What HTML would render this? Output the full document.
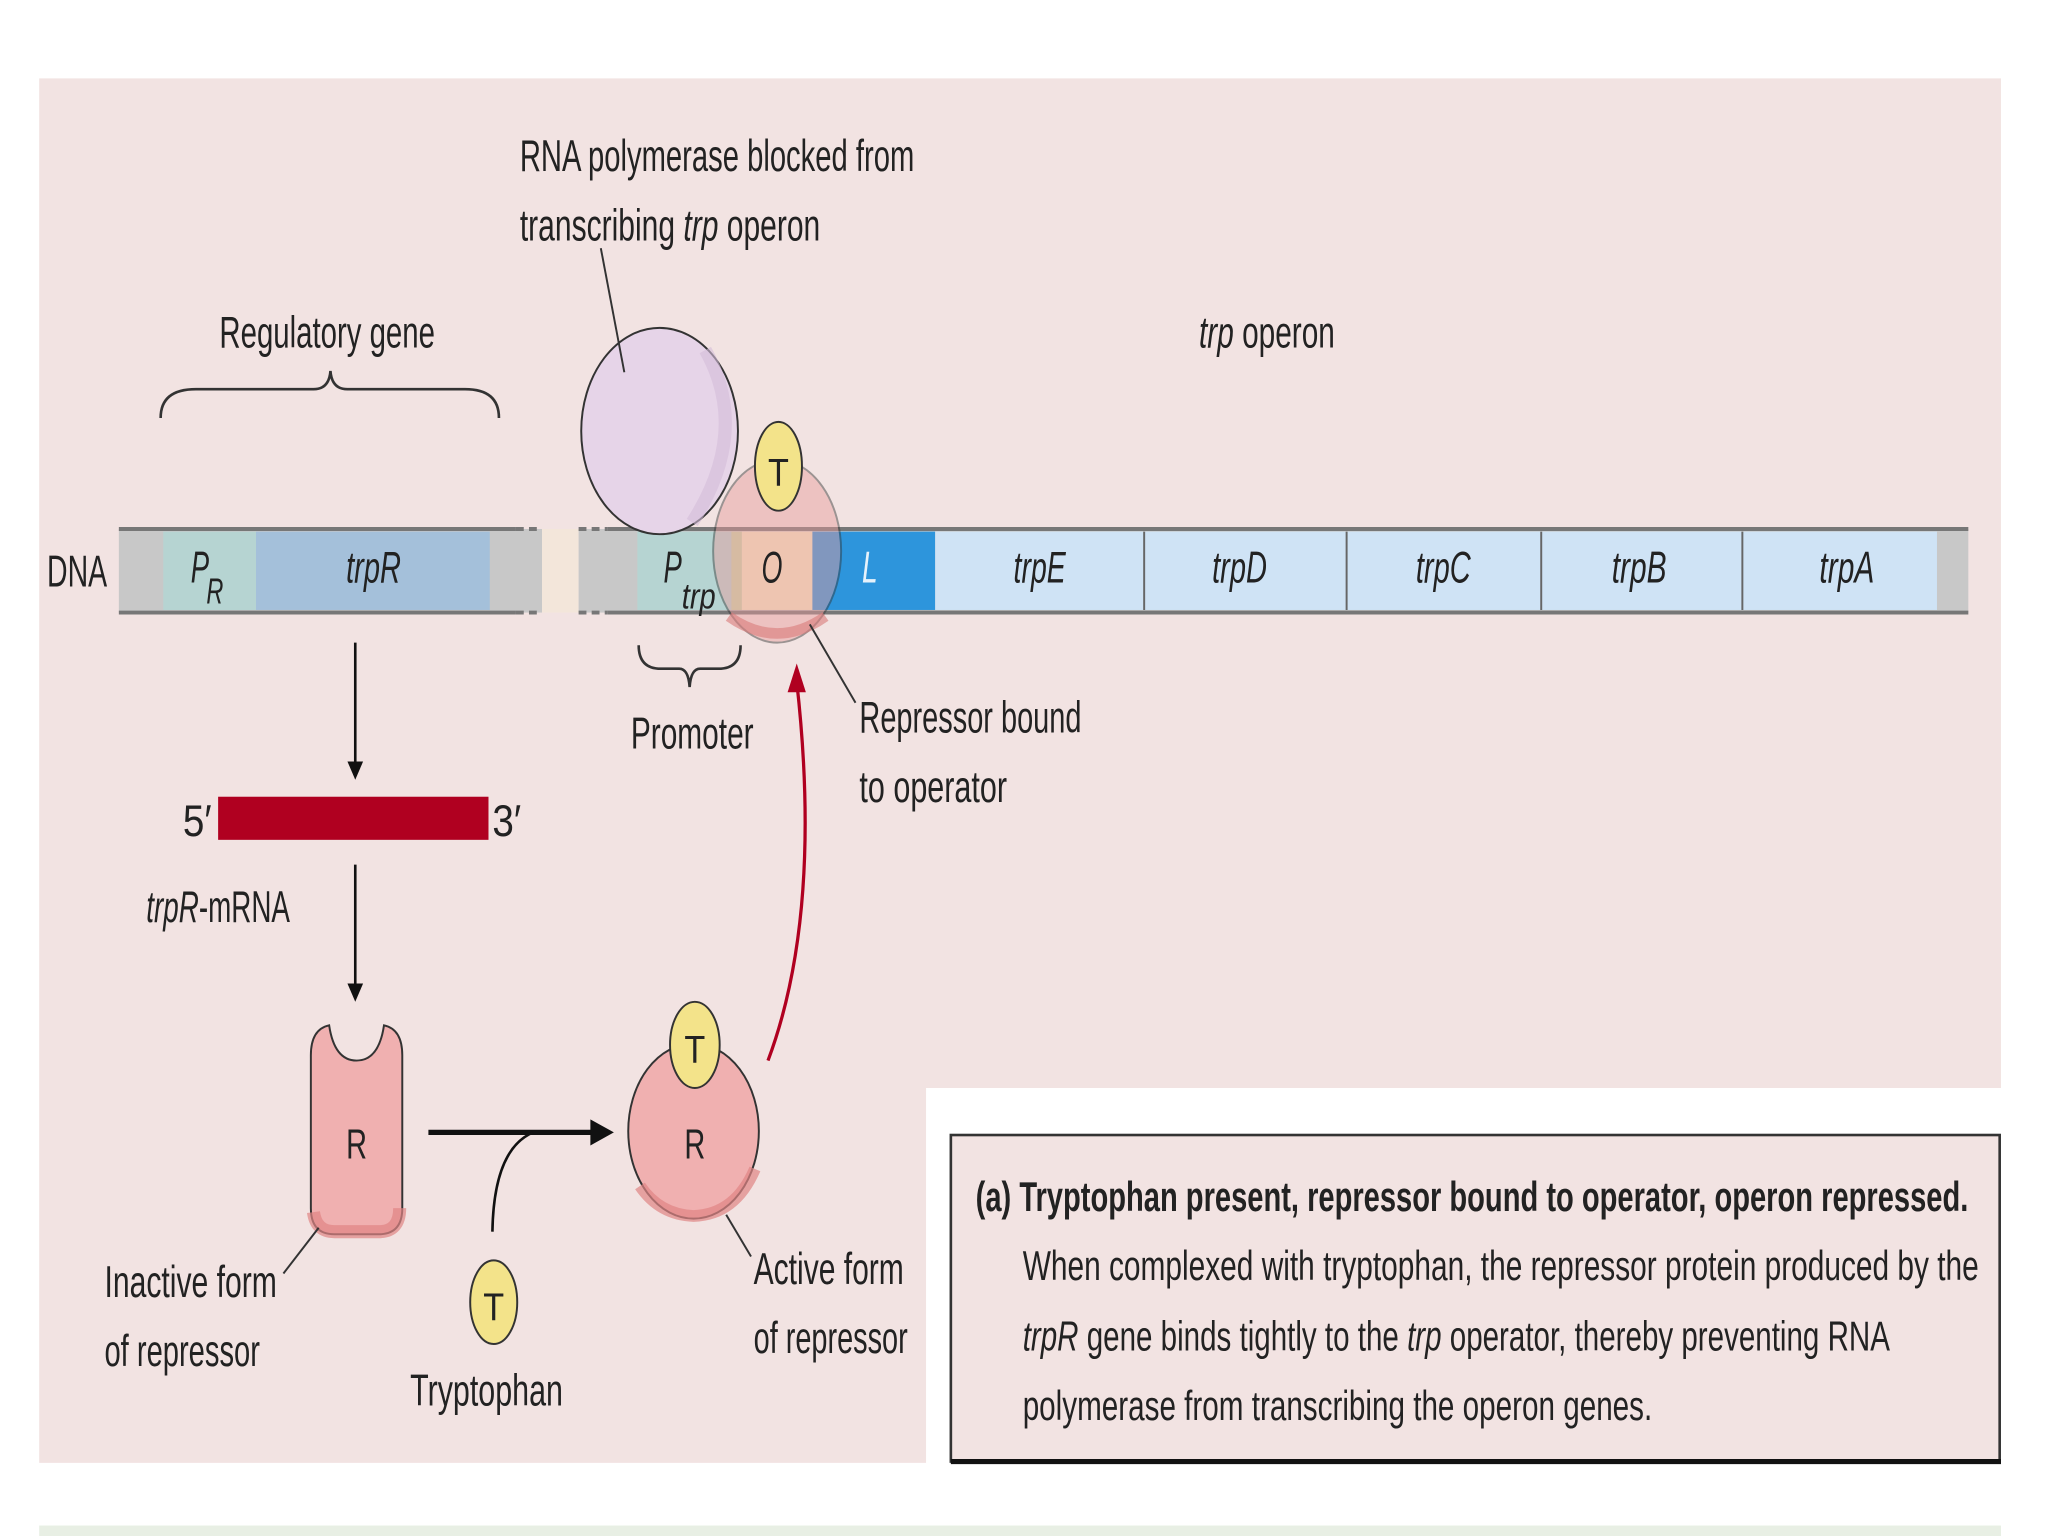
<!DOCTYPE html>
<html><head><meta charset="utf-8"><style>
html,body{margin:0;padding:0;background:#fff;}
svg{display:block}
text{font-family:"Liberation Sans",sans-serif;fill:#222;}
</style></head><body>
<svg width="2048" height="1536" viewBox="0 0 1568 1176" preserveAspectRatio="none" xmlns="http://www.w3.org/2000/svg">
<rect x="0" y="0" width="1568" height="1176" fill="#fff"/>
<path d="M30 60 H1532 V833 H709 V1120 H30 Z" fill="#f2e3e2"/>
<rect x="30" y="1168" width="1502" height="8" fill="#e8efe4"/>
<!-- caption -->
<rect x="728" y="869" width="803" height="250" fill="#f2e3e2" stroke="#333" stroke-width="2"/>
<line x1="728" y1="1119" x2="1532" y2="1119" stroke="#111" stroke-width="4"/>
<text x="747" y="927" font-size="32" font-weight="bold" textLength="760" lengthAdjust="spacingAndGlyphs">(a) Tryptophan present, repressor bound to operator, operon repressed.</text>
<text x="783" y="980" font-size="32" textLength="732" lengthAdjust="spacingAndGlyphs">When complexed with tryptophan, the repressor protein produced by the</text>
<text x="783" y="1034" font-size="32" textLength="664" lengthAdjust="spacingAndGlyphs"><tspan font-style="italic">trpR</tspan> gene binds tightly to the <tspan font-style="italic">trp</tspan> operator, thereby preventing RNA</text>
<text x="783" y="1087" font-size="32" textLength="482" lengthAdjust="spacingAndGlyphs">polymerase from transcribing the operon genes.</text>

<!-- top labels -->
<text x="398" y="131" font-size="34" textLength="302" lengthAdjust="spacingAndGlyphs">RNA polymerase blocked from</text>
<text x="398" y="184" font-size="34" textLength="230" lengthAdjust="spacingAndGlyphs">transcribing <tspan font-style="italic">trp</tspan> operon</text>
<text x="168" y="266" font-size="34" textLength="165" lengthAdjust="spacingAndGlyphs">Regulatory gene</text>
<text x="918" y="266" font-size="34" textLength="104" lengthAdjust="spacingAndGlyphs"><tspan font-style="italic">trp</tspan> operon</text>
<path d="M123 320 Q123 298 150 298 H240 Q252 298 253 284 Q254 298 266 298 H356 Q382 298 382 320" fill="none" stroke="#333" stroke-width="2"/>

<!-- DNA -->
<text x="36" y="449" font-size="34" textLength="46" lengthAdjust="spacingAndGlyphs">DNA</text>
<rect x="91" y="405" width="324" height="64" fill="#c8c8c8"/>
<rect x="125" y="407" width="71" height="60" fill="#b6d4d2"/>
<rect x="196" y="407" width="179" height="60" fill="#a4c0da"/>
<rect x="415" y="405" width="28" height="64" fill="#f3e6da"/>
<rect x="443" y="405" width="1064" height="64" fill="#c8c8c8"/>
<rect x="488" y="407" width="72" height="60" fill="#b6d4d2"/>
<rect x="560" y="407" width="8" height="60" fill="#c9d6a8"/>
<rect x="568" y="407" width="54" height="60" fill="#f5e8c4"/>
<rect x="622" y="407" width="94" height="60" fill="#2d95dc"/>
<rect x="716" y="407" width="767" height="60" fill="#cfe3f5"/>
<g stroke="#666" stroke-width="1.5"><line x1="876" y1="407" x2="876" y2="467"/><line x1="1031" y1="407" x2="1031" y2="467"/><line x1="1180" y1="407" x2="1180" y2="467"/><line x1="1334" y1="407" x2="1334" y2="467"/></g>
<g stroke="#777" stroke-width="3"><line x1="91" y1="405" x2="395" y2="405"/><line x1="91" y1="469" x2="395" y2="469"/><line x1="465" y1="405" x2="1507" y2="405"/><line x1="465" y1="469" x2="1507" y2="469"/></g>
<g stroke="#777" stroke-width="3" stroke-dasharray="6 4"><line x1="395" y1="405" x2="415" y2="405"/><line x1="395" y1="469" x2="415" y2="469"/><line x1="443" y1="405" x2="465" y2="405"/><line x1="443" y1="469" x2="465" y2="469"/></g>

<!-- polymerase -->
<ellipse cx="505" cy="330" rx="60" ry="79" fill="#e6d4e8" stroke="#333" stroke-width="1.5"/>
<path d="M540 268 Q575 330 530 400" fill="none" stroke="#d3bcd8" stroke-width="10" opacity="0.6"/>
<line x1="460" y1="190" x2="478" y2="285" stroke="#333" stroke-width="1.5"/>
<!-- bound repressor -->
<ellipse cx="595" cy="422" rx="49" ry="70" fill="#e79b9b" opacity="0.45" stroke="#333" stroke-width="1.5"/>
<path d="M558 472 Q595 498 632 472" fill="none" stroke="#d97a7a" stroke-width="8" opacity="0.6"/>
<ellipse cx="596" cy="357" rx="18" ry="34" fill="#f3e38a" stroke="#333" stroke-width="1.5"/>
<text x="588" y="372" font-size="30" textLength="16" lengthAdjust="spacingAndGlyphs">T</text>

<g font-style="italic" font-size="34">
<text x="146" y="446" textLength="14" lengthAdjust="spacingAndGlyphs">P</text><text x="158" y="462" font-size="28" textLength="13" lengthAdjust="spacingAndGlyphs">R</text>
<text x="265" y="446" textLength="42" lengthAdjust="spacingAndGlyphs">trpR</text>
<text x="508" y="446" textLength="14" lengthAdjust="spacingAndGlyphs">P</text><text x="522" y="466" font-size="28" textLength="26" lengthAdjust="spacingAndGlyphs">trp</text>
<text x="583" y="446" textLength="16" lengthAdjust="spacingAndGlyphs">O</text>
<text x="660" y="446" style="fill:#e6f2fb" textLength="12" lengthAdjust="spacingAndGlyphs">L</text>
<text x="776" y="446" textLength="40" lengthAdjust="spacingAndGlyphs">trpE</text>
<text x="928" y="446" textLength="42" lengthAdjust="spacingAndGlyphs">trpD</text>
<text x="1084" y="446" textLength="42" lengthAdjust="spacingAndGlyphs">trpC</text>
<text x="1234" y="446" textLength="42" lengthAdjust="spacingAndGlyphs">trpB</text>
<text x="1393" y="446" textLength="42" lengthAdjust="spacingAndGlyphs">trpA</text>
</g>

<line x1="620" y1="478" x2="655" y2="538" stroke="#333" stroke-width="1.5"/>
<text x="658" y="561" font-size="34" textLength="170" lengthAdjust="spacingAndGlyphs">Repressor bound</text>
<text x="658" y="614" font-size="34" textLength="113" lengthAdjust="spacingAndGlyphs">to operator</text>
<path d="M489 494 Q489 512 506 512 H520 Q527 512 528 526 Q529 512 536 512 H550 Q567 512 567 494" fill="none" stroke="#333" stroke-width="2"/>
<text x="483" y="573" font-size="34" textLength="94" lengthAdjust="spacingAndGlyphs">Promoter</text>

<!-- left pathway -->
<line x1="272" y1="492" x2="272" y2="585" stroke="#111" stroke-width="2"/>
<polygon points="266,583 278,583 272,597" fill="#111"/>
<text x="140" y="640" font-size="34" textLength="22" lengthAdjust="spacingAndGlyphs">5′</text>
<rect x="167" y="610" width="207" height="33" fill="#b00020"/>
<text x="377" y="640" font-size="34" textLength="22" lengthAdjust="spacingAndGlyphs">3′</text>
<text x="112" y="706" font-size="34" textLength="110" lengthAdjust="spacingAndGlyphs"><tspan font-style="italic">trpR</tspan>-mRNA</text>
<line x1="272" y1="662" x2="272" y2="755" stroke="#111" stroke-width="2"/>
<polygon points="266,753 278,753 272,767" fill="#111"/>
<path d="M238 808 Q238 788 252 785 Q256 812 273 812 Q290 812 294 785 Q308 788 308 808 V925 Q308 945 290 945 H256 Q238 945 238 925 Z" fill="#f0b0b0" stroke="#333" stroke-width="1.5"/>
<path d="M240 928 Q242 943 256 943 H290 Q306 943 306 925" fill="none" stroke="#df8585" stroke-width="10" opacity="0.7"/>
<text x="265" y="887" font-size="32" textLength="16" lengthAdjust="spacingAndGlyphs">R</text>
<line x1="217" y1="975" x2="244" y2="940" stroke="#333" stroke-width="1.5"/>
<text x="80" y="993" font-size="34" textLength="132" lengthAdjust="spacingAndGlyphs">Inactive form</text>
<text x="80" y="1046" font-size="34" textLength="119" lengthAdjust="spacingAndGlyphs">of repressor</text>

<line x1="328" y1="867" x2="455" y2="867" stroke="#111" stroke-width="4"/>
<polygon points="452,857 470,867 452,877" fill="#111"/>
<path d="M377 943 Q378 880 408 867" fill="none" stroke="#111" stroke-width="2"/>
<ellipse cx="378" cy="997" rx="18" ry="32" fill="#f3e38a" stroke="#333" stroke-width="1.5"/>
<text x="370" y="1011" font-size="30" textLength="16" lengthAdjust="spacingAndGlyphs">T</text>
<text x="314" y="1076" font-size="34" textLength="117" lengthAdjust="spacingAndGlyphs">Tryptophan</text>

<!-- active repressor -->
<ellipse cx="531" cy="866" rx="50" ry="67" fill="#f0b0b0" stroke="#333" stroke-width="1.5"/>
<path d="M490 908 Q505 930 531 931 Q563 930 578 895" fill="none" stroke="#df8585" stroke-width="9" opacity="0.7"/>
<ellipse cx="532" cy="800" rx="19" ry="33" fill="#f3e38a" stroke="#333" stroke-width="1.5"/>
<text x="524" y="814" font-size="30" textLength="16" lengthAdjust="spacingAndGlyphs">T</text>
<text x="524" y="887" font-size="32" textLength="16" lengthAdjust="spacingAndGlyphs">R</text>
<line x1="556" y1="930" x2="575" y2="962" stroke="#333" stroke-width="1.5"/>
<text x="577" y="983" font-size="34" textLength="115" lengthAdjust="spacingAndGlyphs">Active form</text>
<text x="577" y="1036" font-size="34" textLength="118" lengthAdjust="spacingAndGlyphs">of repressor</text>
<path d="M588 812 Q630 700 610 522" fill="none" stroke="#b00020" stroke-width="2.5"/>
<polygon points="603,530 610,508 617,530" fill="#b00020"/>
</svg>
</body></html>
